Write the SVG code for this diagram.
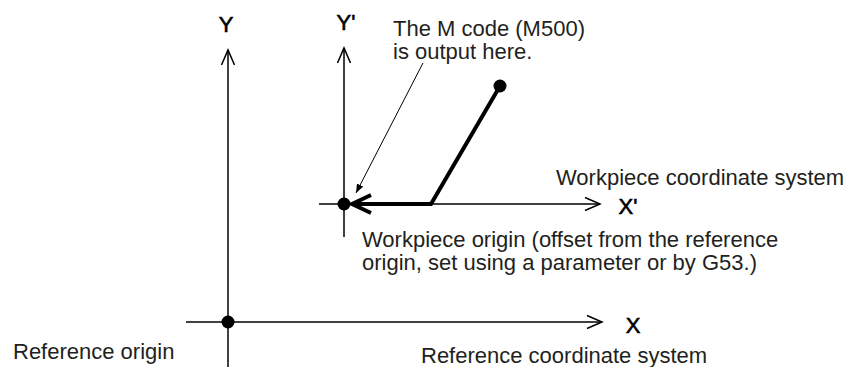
<svg xmlns="http://www.w3.org/2000/svg" width="848" height="367" viewBox="0 0 848 367">
<style>
.t{font-family:"Liberation Sans",Arial,sans-serif;font-size:22px;fill:#231f20}
.ax{font-family:"Liberation Sans",Arial,sans-serif;font-size:22px;fill:#000;stroke:#000;stroke-width:0.6}
.thin{stroke:#000;stroke-width:1.5;fill:none}
.thick{stroke:#000;stroke-width:4;fill:none;stroke-linejoin:miter}
.dot{fill:#000}
</style>
<defs>
<marker id="lead" markerWidth="10" markerHeight="8" refX="9" refY="4" orient="auto" markerUnits="userSpaceOnUse">
<path d="M0,0.5 L9,4 L0,7.5 Z" fill="#000"/>
</marker>
</defs>
<g id="connectors">
<g id="ref-y-axis"><line class="thin" x1="228" y1="50" x2="228" y2="367"/><polyline class="thin" points="221.5,65 228,50 234.5,65"/></g>
<g id="ref-x-axis"><line class="thin" x1="186" y1="322" x2="602" y2="322"/><polyline class="thin" points="587,315.5 602,322 587,328.5"/></g>
<g id="wp-y-axis"><line class="thin" x1="344" y1="48" x2="344" y2="237"/><polyline class="thin" points="337.5,63 344,48 350.5,63"/></g>
<g id="wp-x-axis"><line class="thin" x1="319" y1="204" x2="600" y2="204"/><polyline class="thin" points="585,197.5 600,204 585,210.5"/></g>
<g id="tool-path"><polyline class="thick" points="500,86 431,204 352,204"/><polyline class="thick" points="371,195 352,204 371,213"/></g>
<g id="leader"><line stroke="#000" stroke-width="1" x1="423" y1="63" x2="356" y2="193" marker-end="url(#lead)"/></g>
</g>
<g id="start-point"><circle class="dot" cx="500" cy="86" r="6.5"/></g>
<g id="workpiece-origin"><circle class="dot" cx="344" cy="204" r="6.5"/></g>
<g id="reference-origin"><circle class="dot" cx="228" cy="322" r="6.5"/></g>
<g id="labels">
<text class="ax" x="226" y="32" text-anchor="middle">Y</text>
<text class="ax" x="346" y="30" text-anchor="middle">Y'</text>
<text class="ax" x="628" y="214" text-anchor="middle">X'</text>
<text class="ax" x="633" y="333" text-anchor="middle">X</text>
<text class="t" x="393" y="36">The M code (M500)</text>
<text class="t" x="393" y="59">is output here.</text>
<text class="t" x="556" y="185">Workpiece coordinate system</text>
<text class="t" x="362" y="247">Workpiece origin (offset from the reference</text>
<text class="t" x="362" y="270">origin, set using a parameter or by G53.)</text>
<text class="t" x="13" y="359">Reference origin</text>
<text class="t" x="421" y="363">Reference coordinate system</text>
</g>
</svg>
